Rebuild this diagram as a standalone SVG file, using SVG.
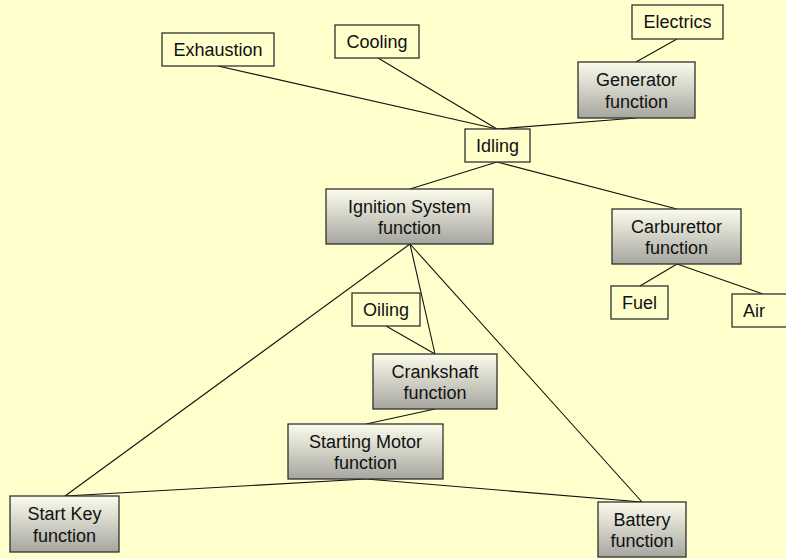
<svg xmlns="http://www.w3.org/2000/svg" width="786" height="559" viewBox="0 0 786 559">
  <defs>
    <linearGradient id="shade" x1="0" y1="0" x2="0" y2="1">
      <stop offset="0" stop-color="#FCFCEC"/>
      <stop offset="1" stop-color="#A6A6A0"/>
    </linearGradient>
    <style>
      .plain { fill: #FFFFCC; stroke: #303030; stroke-width: 1.3; }
      .func { fill: url(#shade); stroke: #303030; stroke-width: 1.3; }
      text { font-family: "Liberation Sans", Arial, sans-serif; font-size: 18px; fill: #111; text-anchor: middle; }
      .link { stroke: #111; stroke-width: 1.1; fill: none; }
    </style>
  </defs>

  <rect x="0" y="0" width="786" height="559" fill="#FFFFCC"/>

  <!-- connectors -->
  <g id="connectors">
    <line class="link" x1="218" y1="66" x2="497" y2="129"/>
    <line class="link" x1="378" y1="58" x2="497" y2="129"/>
    <line class="link" x1="677" y1="39" x2="636" y2="62"/>
    <line class="link" x1="636" y1="118" x2="497" y2="129"/>
    <line class="link" x1="497" y1="162" x2="410" y2="189"/>
    <line class="link" x1="497" y1="162" x2="677" y2="209"/>
    <line class="link" x1="677" y1="264" x2="640" y2="286"/>
    <line class="link" x1="677" y1="264" x2="763" y2="294"/>
    <line class="link" x1="410" y1="244" x2="435" y2="354"/>
    <line class="link" x1="386" y1="326" x2="435" y2="354"/>
    <line class="link" x1="410" y1="244" x2="65" y2="496"/>
    <line class="link" x1="410" y1="244" x2="642" y2="502"/>
    <line class="link" x1="435" y1="409" x2="366" y2="424"/>
    <line class="link" x1="366" y1="479" x2="65" y2="496"/>
    <line class="link" x1="366" y1="479" x2="642" y2="502"/>
  </g>

  <g id="exhaustion">
    <rect class="plain" x="162" y="33" width="112" height="33"/>
    <text x="218" y="56">Exhaustion</text>
  </g>
  <g id="cooling">
    <rect class="plain" x="335" y="25" width="84" height="33"/>
    <text x="377" y="48">Cooling</text>
  </g>
  <g id="electrics">
    <rect class="plain" x="632" y="5" width="91" height="34"/>
    <text x="677.5" y="28">Electrics</text>
  </g>
  <g id="generator">
    <rect class="func" x="578" y="62" width="117" height="56"/>
    <text x="636.5" y="86">Generator</text>
    <text x="636.5" y="107.5">function</text>
  </g>
  <g id="idling">
    <rect class="plain" x="465" y="129" width="65" height="33"/>
    <text x="497.5" y="152">Idling</text>
  </g>
  <g id="ignition">
    <rect class="func" x="326" y="189" width="167" height="55"/>
    <text x="409.5" y="212.5">Ignition System</text>
    <text x="409.5" y="234">function</text>
  </g>
  <g id="carburettor">
    <rect class="func" x="612" y="209" width="129" height="55"/>
    <text x="676.5" y="232.5">Carburettor</text>
    <text x="676.5" y="254">function</text>
  </g>
  <g id="fuel">
    <rect class="plain" x="611" y="286" width="57" height="33"/>
    <text x="639.5" y="309">Fuel</text>
  </g>
  <g id="air">
    <rect class="plain" x="732" y="294" width="62" height="33"/>
    <text x="754" y="317">Air</text>
  </g>
  <g id="oiling">
    <rect class="plain" x="352" y="293" width="68" height="33"/>
    <text x="386" y="316">Oiling</text>
  </g>
  <g id="crankshaft">
    <rect class="func" x="373" y="354" width="124" height="55"/>
    <text x="435" y="377.5">Crankshaft</text>
    <text x="435" y="399">function</text>
  </g>
  <g id="starting-motor">
    <rect class="func" x="288" y="424" width="155" height="55"/>
    <text x="365.5" y="447.5">Starting Motor</text>
    <text x="365.5" y="469">function</text>
  </g>
  <g id="start-key">
    <rect class="func" x="10" y="496" width="109" height="56"/>
    <text x="64.5" y="520">Start Key</text>
    <text x="64.5" y="541.5">function</text>
  </g>
  <g id="battery">
    <rect class="func" x="598" y="502" width="88" height="55"/>
    <text x="642" y="525.5">Battery</text>
    <text x="642" y="547">function</text>
  </g>
</svg>
